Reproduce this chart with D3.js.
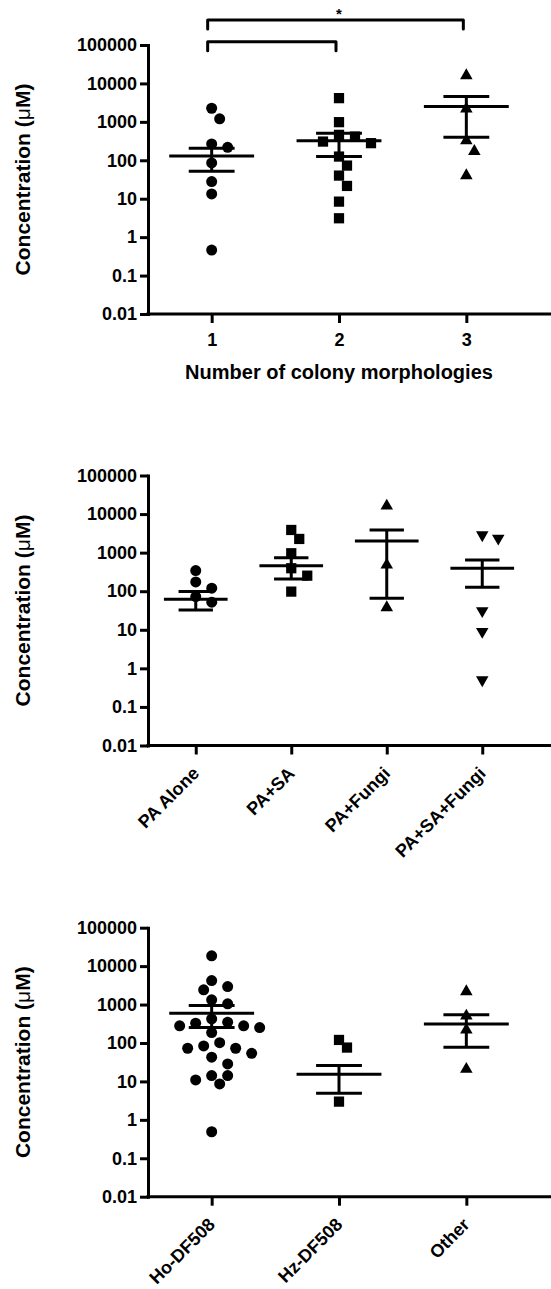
<!DOCTYPE html>
<html>
<head>
<meta charset="utf-8">
<script src="https://cdn.jsdelivr.net/npm/d3@7"></script>
<style>
  body { margin: 0; background: #fff; }
  text { font-family: "Liberation Sans", Arial, sans-serif; font-weight: bold; fill: #000; }
</style>
</head>
<body>
<svg id="fig" width="551" height="1289"></svg>
<script>
const yTicks = [0.01, 0.1, 1, 10, 100, 1000, 10000, 100000];

// panel 1: number of colony morphologies
const morphCats = ['1', '2', '3'];
const morphOne = [2260, 1197, 267, 218, 85.5, 27.9, 13.3, 0.46];
const morphTwo = [4140, 982, 459, 414, 307, 279, 125, 72.8, 40, 21.5, 8.4, 3.1];
const morphThree = [16070, 2180, 326, 171, 40];
const morphMean = [130, 320, 2500];
const morphHi = [205, 508, 4560];
const morphLo = [52, 125, 397];
const morphSig = [[0, 2, '*'], [0, 1, '']];

// panel 2: co-infection
const coCats = ['PA Alone', 'PA+SA', 'PA+Fungi', 'PA+SA+Fungi'];
const paAlone = [342, 120, 174, 72.5, 51.9];
const paSa = [3870, 2265, 964, 394, 253, 97.7];
const paFungi = [16200, 480, 37.6];
const paSaFungi = [2870, 2360, 30.9, 8.98, 0.5];
const coMean = [62, 460, 2010, 394];
const coHi = [97.7, 742, 3870, 647];
const coLo = [32.8, 208, 66, 127];

// panel 3: genotype
const genoCats = ['Ho-DF508', 'Hz-DF508', 'Other'];
const hoDF = [18500, 4220, 2940, 2415, 1325, 1043, 424, 348, 328, 279, 279, 252, 187,
              102, 84, 73, 73, 54, 42.7, 28.6, 14.2, 14.2, 10.9, 8.6, 0.49];
const hzDF = [120, 76, 2.98];
const otherGeno = [2180, 508, 219, 20.8];
const genoMean = [597, 15.4, 314];
const genoHi = [942, 25.8, 539];
const genoLo = [252, 4.93, 78];

const svg = d3.select('#fig');
const left = 148, right = 530, axisEnd = 560;

const shapes = {
  circle: d3.symbol().type(d3.symbolCircle).size(95)(),
  square: d3.symbol().type(d3.symbolSquare).size(105)(),
  up: d3.symbol().type(d3.symbolTriangle).size(68)(),
  down: d3.symbol().type(d3.symbolTriangle).size(68)()
};

// simple beeswarm: biggest first, nudge sideways until it clears placed ones
function swarm(values, y, d, step) {
  const placed = [];
  return values.slice().sort((a, b) => b - a).map(v => {
    const py = y(v);
    let off = 0;
    for (let k = 0; k < 30; k++) {
      off = k === 0 ? 0 : (k % 2 ? 1 : -1) * Math.ceil(k / 2) * step;
      if (placed.every(q => Math.hypot(q.x - off, q.y - py) >= d)) break;
    }
    placed.push({x: off, y: py});
    return {v: v, dx: off};
  });
}

function drawPanel(p) {
  const g = svg.append('g');
  const y = d3.scaleLog().domain([0.01, 100000]).range([p.bottom, p.top]);
  const x = d3.scalePoint().domain(p.cats).range([left, right]).padding(0.5);
  const step = x.step();

  const yAxis = g.append('g')
    .attr('transform', 'translate(' + left + ',0)')
    .call(d3.axisLeft(y).tickValues(yTicks).tickFormat(d => String(d))
      .tickSize(8).tickSizeOuter(0).tickPadding(3));
  yAxis.selectAll('text').style('font-size', '18px');

  const xAxis = g.append('g')
    .attr('transform', 'translate(0,' + p.bottom + ')')
    .call(d3.axisBottom(x).tickSize(9).tickSizeOuter(0).tickPadding(10));
  xAxis.selectAll('text').style('font-size', '18px');
  xAxis.select('.domain').attr('d', 'M' + left + ',0H' + axisEnd);
  if (p.rotate) {
    xAxis.selectAll('text')
      .attr('y', 0).attr('dy', 0)
      .attr('text-anchor', 'end')
      .attr('transform', 'translate(4,29) rotate(-45)');
  }
  [yAxis, xAxis].forEach(a => {
    a.select('.domain').attr('stroke-width', 3).attr('stroke-linecap', 'square');
    a.selectAll('.tick line').attr('stroke-width', 3);
  });

  // y title with the mu in a lighter face
  const t = g.append('text')
    .attr('transform', 'translate(30,' + (p.top + p.bottom) / 2 + ') rotate(-90)')
    .attr('text-anchor', 'middle')
    .style('font-size', '21px');
  t.append('tspan').text('Concentration (');
  t.append('tspan').style('font-weight', 'normal').text('\u03bc');
  t.append('tspan').text('M)');

  if (p.xTitle) {
    g.append('text')
      .attr('x', x(p.cats[1])).attr('y', p.bottom + 65)
      .attr('text-anchor', 'middle').style('font-size', '20px')
      .text(p.xTitle);
  }

  p.groups.forEach((vals, i) => {
    const cx = x(p.cats[i]);
    const shape = p.shapes[i];
    g.append('g').selectAll('path')
      .data(swarm(vals, y, 11, 8))
      .join('path')
      .attr('d', shapes[shape])
      .attr('transform', d => 'translate(' + (cx + d.dx) + ',' + y(d.v) + ')' + (shape === 'down' ? ' rotate(180)' : ''))
      .attr('fill', '#000');

    const eb = g.append('g').attr('stroke', '#000').attr('stroke-width', 3);
    eb.append('line').attr('x1', cx).attr('x2', cx).attr('y1', y(p.lo[i])).attr('y2', y(p.hi[i]));
    [p.lo[i], p.hi[i]].forEach(v => {
      eb.append('line').attr('x1', cx - step * 0.18).attr('x2', cx + step * 0.18)
        .attr('y1', y(v)).attr('y2', y(v));
    });
    eb.append('line').attr('x1', cx - step / 3).attr('x2', cx + step / 3)
      .attr('y1', y(p.mean[i])).attr('y2', y(p.mean[i]));
  });

  if (p.sig) {
    p.sig.forEach((s, k) => {
      const yb = p.top - 25 + k * 21.7;
      const x1 = x(p.cats[s[0]]) - 4, x2 = x(p.cats[s[1]]) - 3;
      g.append('path')
        .attr('d', 'M' + x1 + ',' + (yb + 9) + 'V' + yb + 'H' + x2 + 'V' + (yb + 9))
        .attr('fill', 'none').attr('stroke', '#000').attr('stroke-width', 3)
        .attr('stroke-linejoin', 'round').attr('stroke-linecap', 'round');
      if (s[2]) {
        g.append('text').attr('x', x(p.cats[1])).attr('y', yb - 1)
          .attr('text-anchor', 'middle').style('font-size', '15px').text(s[2]);
      }
    });
  }
}

drawPanel({
  top: 45, bottom: 314, cats: morphCats,
  groups: [morphOne, morphTwo, morphThree],
  shapes: ['circle', 'square', 'up'],
  mean: morphMean, hi: morphHi, lo: morphLo,
  xTitle: 'Number of colony morphologies', sig: morphSig
});

drawPanel({
  top: 475.5, bottom: 745.5, cats: coCats,
  groups: [paAlone, paSa, paFungi, paSaFungi],
  shapes: ['circle', 'square', 'up', 'down'],
  mean: coMean, hi: coHi, lo: coLo, rotate: true
});

drawPanel({
  top: 927.7, bottom: 1196.7, cats: genoCats,
  groups: [hoDF, hzDF, otherGeno],
  shapes: ['circle', 'square', 'up'],
  mean: genoMean, hi: genoHi, lo: genoLo, rotate: true
});
</script>
</body>
</html>
